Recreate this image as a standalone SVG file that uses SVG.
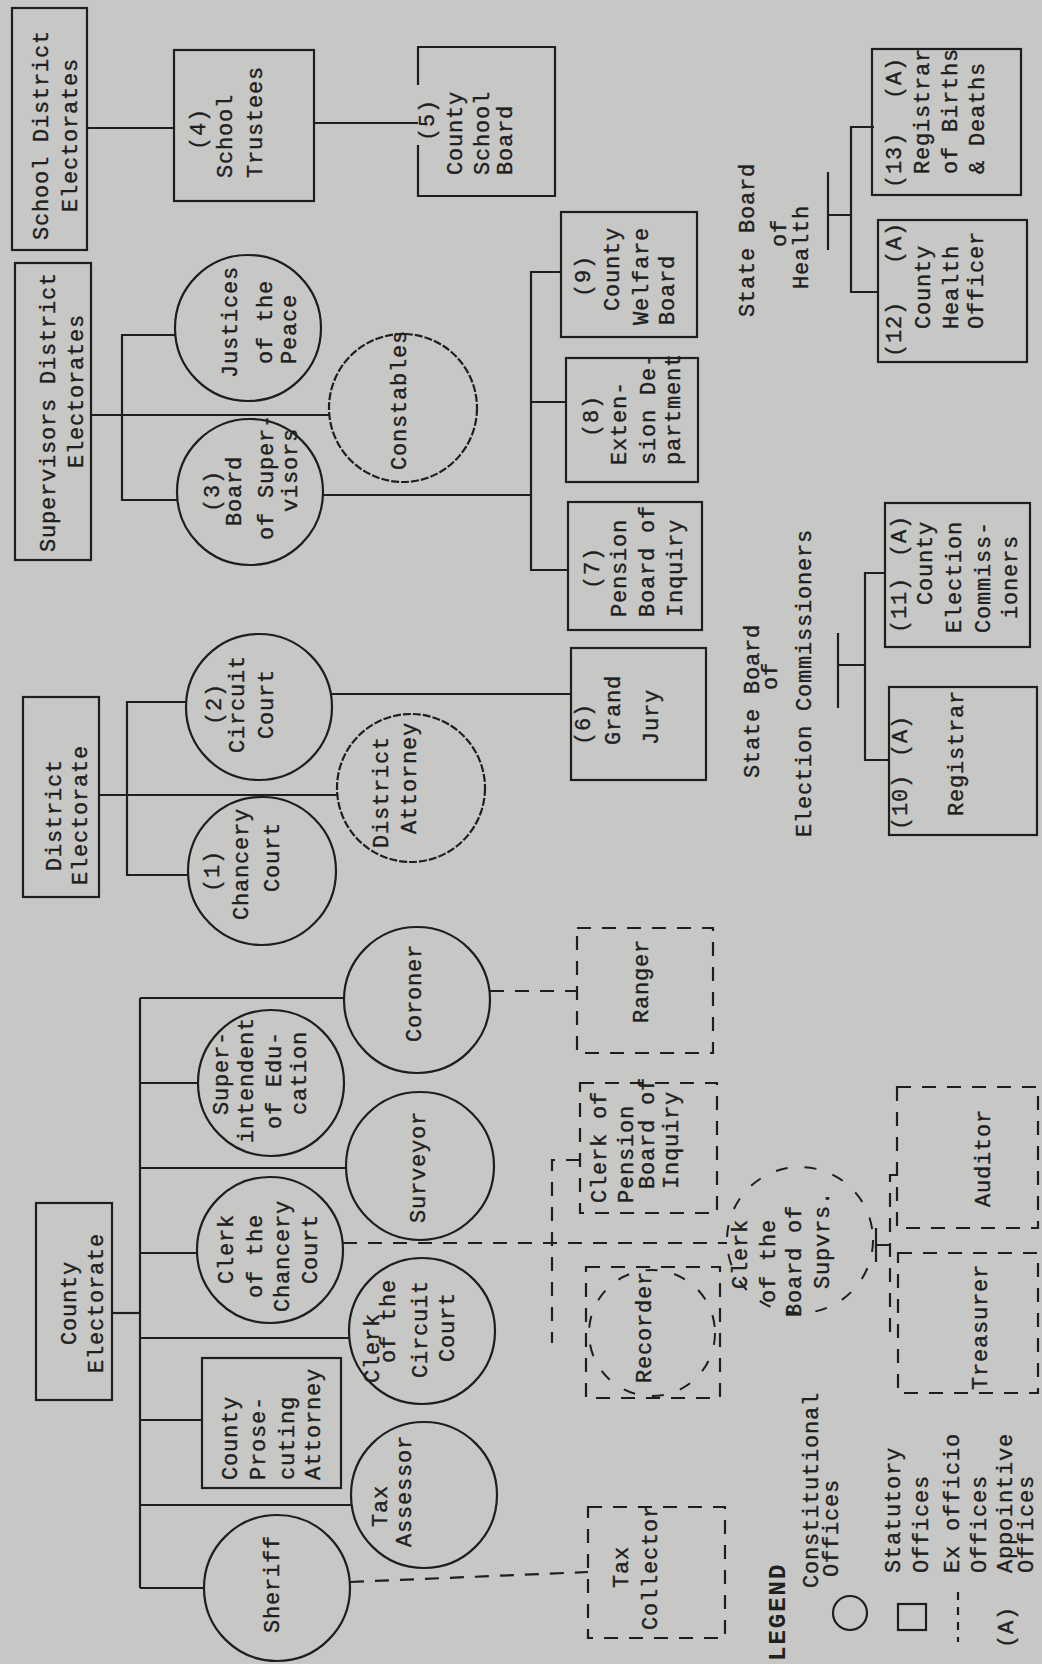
<svg xmlns="http://www.w3.org/2000/svg" width="1042" height="1664" viewBox="0 0 1042 1664">
<style>
.bg{fill:#c7c7c5}
.s{fill:none;stroke:#1e1e1e;stroke-width:2.2}
.d{fill:none;stroke:#1e1e1e;stroke-width:2.2;stroke-dasharray:14 11}
.dc{fill:none;stroke:#1e1e1e;stroke-width:2;stroke-dasharray:12 17}
.t{font-family:"Liberation Mono","DejaVu Sans Mono",monospace;font-size:22px;letter-spacing:0.8px;fill:#202020;stroke:#202020;stroke-width:0.35}
.lg{font-family:"Liberation Mono","DejaVu Sans Mono",monospace;font-size:24px;font-weight:bold;letter-spacing:2px;fill:#202020}
</style>
<rect class="bg" x="0" y="0" width="1042" height="1664"/>

<g id="connectors">
  <path class="s" d="M87,128 H174"/>
  <path class="s" d="M314,123 H418"/>
  <path class="s" d="M91,415 H329"/>
  <path class="s" d="M175,335 H122 V500 H177"/>
  <path class="s" d="M323,495 H531"/>
  <path class="s" d="M561,272 H531 V570 H568"/>
  <path class="s" d="M531,402 H566"/>
  <path class="s" d="M332,694 H571"/>
  <path class="s" d="M99,795 H337"/>
  <path class="s" d="M186,702 H127 V875 H188"/>
  <path class="s" d="M112,1313 H140"/>
  <path class="s" d="M140,998 V1588"/>
  <path class="s" d="M140,998 H344 M140,1083 H198 M140,1168 H346 M140,1253 H197 M140,1338 H349 M140,1420 H202 M140,1505 H351 M140,1588 H204"/>
  <path class="s" d="M828,172 V250 M828,215 H851 M874,127 H851 V292 H878"/>
  <path class="s" d="M838,633 V708 M838,665 H865 M885,573 H865 V760 H889"/>
  <path class="d" d="M350,1582 L588,1572"/>
  <path class="d" d="M490,991 H577"/>
  <path class="d" d="M343,1243 H727"/>
  <path class="d" d="M580,1160 H552 V1343"/>
  <path class="s" d="M876,1228 V1262 M876,1245 H890"/>
  <path class="d" d="M897,1175 H890 V1335 H898"/>
</g>

<g id="school-district-electorates">
  <rect class="s" x="12" y="8" width="75" height="242"/>
  <text class="t" transform="rotate(-90)"><tspan x="-240" y="48">School District</tspan><tspan x="-212" y="77">Electorates</tspan></text>
</g>
<g id="school-trustees">
  <rect class="s" x="174" y="50" width="140" height="151"/>
  <text class="t" transform="rotate(-90)"><tspan x="-150" y="205">(4)</tspan><tspan x="-178" y="232">School</tspan><tspan x="-178" y="262">Trustees</tspan></text>
</g>
<g id="county-school-board">
  <path class="s" d="M418,85 V47 H555 V196 H418 V145"/>
  <text class="t" transform="rotate(-90)"><tspan x="-141" y="434">(5)</tspan><tspan x="-175" y="462">County</tspan><tspan x="-175" y="489">School</tspan><tspan x="-175" y="512">Board</tspan></text>
</g>
<g id="supervisors-district-electorates">
  <rect class="s" x="15" y="263" width="76" height="297"/>
  <text class="t" transform="rotate(-90)"><tspan x="-552" y="55">Supervisors District</tspan><tspan x="-468" y="83">Electorates</tspan></text>
</g>
<g id="justices-of-the-peace">
  <circle class="s" cx="248" cy="328" r="73"/>
  <text class="t" transform="rotate(-90)"><tspan x="-378" y="237">Justices</tspan><tspan x="-364" y="272">of the</tspan><tspan x="-364" y="296">Peace</tspan></text>
</g>
<g id="constables">
  <circle class="s" cx="403" cy="408" r="74" stroke-dasharray="8 2"/>
  <text class="t" transform="rotate(-90)"><tspan x="-470" y="406">Constables</tspan></text>
</g>
<g id="board-of-supervisors">
  <circle class="s" cx="250" cy="492" r="73"/>
  <text class="t" transform="rotate(-90)"><tspan x="-512" y="219">(3)</tspan><tspan x="-526" y="241">Board</tspan><tspan x="-540" y="273">of Super-</tspan><tspan x="-512" y="297">visors</tspan></text>
</g>
<g id="county-welfare-board">
  <rect class="s" x="561" y="212" width="136" height="125"/>
  <text class="t" transform="rotate(-90)"><tspan x="-297" y="590">(9)</tspan><tspan x="-311" y="619">County</tspan><tspan x="-325" y="648">Welfare</tspan><tspan x="-325" y="674">Board</tspan></text>
</g>
<g id="extension-department">
  <rect class="s" x="566" y="358" width="132" height="124"/>
  <text class="t" transform="rotate(-90)"><tspan x="-437" y="598">(8)</tspan><tspan x="-465" y="626">Exten-</tspan><tspan x="-465" y="655">sion De-</tspan><tspan x="-465" y="680">partment</tspan></text>
</g>
<g id="pension-board-of-inquiry">
  <rect class="s" x="568" y="502" width="134" height="128"/>
  <text class="t" transform="rotate(-90)"><tspan x="-589" y="599">(7)</tspan><tspan x="-617" y="626">Pension</tspan><tspan x="-617" y="654">Board of</tspan><tspan x="-617" y="682">Inquiry</tspan></text>
</g>
<g id="grand-jury">
  <rect class="s" x="571" y="648" width="135" height="132"/>
  <text class="t" transform="rotate(-90)"><tspan x="-745" y="590">(6)</tspan><tspan x="-745" y="620">Grand</tspan><tspan x="-745" y="658">Jury</tspan></text>
</g>
<g id="state-board-of-health">
  <text class="t" transform="rotate(-90)"><tspan x="-317" y="754">State Board</tspan><tspan x="-247" y="786">of</tspan><tspan x="-289" y="808">Health</tspan></text>
</g>
<g id="registrar-of-births-deaths">
  <rect class="s" x="872" y="49" width="149" height="146"/>
  <text class="t" transform="rotate(-90)"><tspan x="-188" y="901">(13)</tspan><tspan x="-99" y="901">(A)</tspan><tspan x="-174" y="929">Registrar</tspan><tspan x="-174" y="957">of Births</tspan><tspan x="-174" y="984">&amp; Deaths</tspan></text>
</g>
<g id="county-health-officer">
  <rect class="s" x="878" y="220" width="149" height="142"/>
  <text class="t" transform="rotate(-90)"><tspan x="-357" y="901">(12)</tspan><tspan x="-264" y="901">(A)</tspan><tspan x="-329" y="930">County</tspan><tspan x="-329" y="958">Health</tspan><tspan x="-329" y="983">Officer</tspan></text>
</g>
<g id="state-board-of-election-commissioners">
  <text class="t" transform="rotate(-90)"><tspan x="-778" y="759">State Board</tspan><tspan x="-690" y="777">of</tspan><tspan x="-837" y="811">Election Commissioners</tspan></text>
</g>
<g id="county-election-commissioners">
  <rect class="s" x="885" y="503" width="145" height="144"/>
  <text class="t" transform="rotate(-90)"><tspan x="-633" y="906">(11)</tspan><tspan x="-557" y="906">(A)</tspan><tspan x="-605" y="932">County</tspan><tspan x="-633" y="961">Election</tspan><tspan x="-633" y="990">Commiss-</tspan><tspan x="-619" y="1017">ioners</tspan></text>
</g>
<g id="registrar">
  <rect class="s" x="889" y="687" width="148" height="148"/>
  <text class="t" transform="rotate(-90)"><tspan x="-830" y="907">(10)</tspan><tspan x="-757" y="907">(A)</tspan><tspan x="-816" y="963">Registrar</tspan></text>
</g>
<g id="district-electorate">
  <rect class="s" x="23" y="697" width="76" height="200"/>
  <text class="t" transform="rotate(-90)"><tspan x="-871" y="61">District</tspan><tspan x="-885" y="87">Electorate</tspan></text>
</g>
<g id="circuit-court">
  <circle class="s" cx="259" cy="707" r="73"/>
  <text class="t" transform="rotate(-90)"><tspan x="-725" y="221">(2)</tspan><tspan x="-753" y="244">Circuit</tspan><tspan x="-739" y="273">Court</tspan></text>
</g>
<g id="district-attorney">
  <circle class="s" cx="411" cy="788" r="74" stroke-dasharray="8 2"/>
  <text class="t" transform="rotate(-90)"><tspan x="-848" y="388">District</tspan><tspan x="-834" y="416">Attorney</tspan></text>
</g>
<g id="chancery-court">
  <circle class="s" cx="262" cy="871" r="74"/>
  <text class="t" transform="rotate(-90)"><tspan x="-892" y="219">(1)</tspan><tspan x="-920" y="248">Chancery</tspan><tspan x="-892" y="279">Court</tspan></text>
</g>
<g id="county-electorate">
  <rect class="s" x="36" y="1203" width="76" height="197"/>
  <text class="t" transform="rotate(-90)"><tspan x="-1345" y="76">County</tspan><tspan x="-1373" y="103">Electorate</tspan></text>
</g>
<g id="coroner">
  <circle class="s" cx="417" cy="1000" r="73"/>
  <text class="t" transform="rotate(-90)"><tspan x="-1042" y="421">Coroner</tspan></text>
</g>
<g id="superintendent-of-education">
  <circle class="s" cx="271" cy="1083" r="73"/>
  <text class="t" transform="rotate(-90)"><tspan x="-1115" y="228">Super-</tspan><tspan x="-1143" y="253">intendent</tspan><tspan x="-1129" y="281">of Edu-</tspan><tspan x="-1115" y="306">cation</tspan></text>
</g>
<g id="surveyor">
  <circle class="s" cx="420" cy="1166" r="74"/>
  <text class="t" transform="rotate(-90)"><tspan x="-1223" y="425">Surveyor</tspan></text>
</g>
<g id="clerk-of-the-chancery-court">
  <circle class="s" cx="270" cy="1250" r="73"/>
  <text class="t" transform="rotate(-90)"><tspan x="-1284" y="233">Clerk</tspan><tspan x="-1298" y="262">of the</tspan><tspan x="-1312" y="289">Chancery</tspan><tspan x="-1284" y="317">Court</tspan></text>
</g>
<g id="clerk-of-the-circuit-court">
  <circle class="s" cx="422" cy="1331" r="73"/>
  <text class="t" transform="rotate(-90)"><tspan x="-1383" y="379">Clerk</tspan><tspan x="-1363" y="395">of the</tspan><tspan x="-1378" y="427">Circuit</tspan><tspan x="-1362" y="454">Court</tspan></text>
</g>
<g id="county-prosecuting-attorney">
  <rect class="s" x="202" y="1358" width="139" height="130"/>
  <text class="t" transform="rotate(-90)"><tspan x="-1480" y="237">County</tspan><tspan x="-1480" y="265">Prose-</tspan><tspan x="-1480" y="294">cuting</tspan><tspan x="-1480" y="320">Attorney</tspan></text>
</g>
<g id="tax-assessor">
  <circle class="s" cx="424" cy="1495" r="73"/>
  <text class="t" transform="rotate(-90)"><tspan x="-1527" y="387">Tax</tspan><tspan x="-1547" y="411">Assessor</tspan></text>
</g>
<g id="sheriff">
  <circle class="s" cx="277" cy="1588" r="73"/>
  <text class="t" transform="rotate(-90)"><tspan x="-1633" y="279">Sheriff</tspan></text>
</g>
<g id="tax-collector">
  <rect class="d" x="588" y="1507" width="137" height="131"/>
  <text class="t" transform="rotate(-90)"><tspan x="-1588" y="628">Tax</tspan><tspan x="-1630" y="657">Collector</tspan></text>
</g>
<g id="ranger">
  <rect class="d" x="577" y="928" width="136" height="125"/>
  <text class="t" transform="rotate(-90)"><tspan x="-1023" y="648">Ranger</tspan></text>
</g>
<g id="clerk-of-pension-board">
  <rect class="d" x="580" y="1083" width="137" height="130"/>
  <text class="t" transform="rotate(-90)"><tspan x="-1203" y="606">Clerk of</tspan><tspan x="-1203" y="633">Pension</tspan><tspan x="-1189" y="654">Board of</tspan><tspan x="-1189" y="678">Inquiry</tspan></text>
</g>
<g id="recorder">
  <rect class="d" x="586" y="1267" width="134" height="131"/>
  <circle class="dc" cx="652" cy="1333" r="63"/>
  <text class="t" transform="rotate(-90)"><tspan x="-1383" y="651">Recorder</tspan></text>
</g>
<g id="clerk-of-the-board-of-supervisors">
  <circle class="dc" cx="800" cy="1240" r="73"/>
  <text class="t" transform="rotate(-90)"><tspan x="-1289" y="747">Clerk</tspan><tspan x="-1303" y="775">of the</tspan><tspan x="-1317" y="801">Board of</tspan><tspan x="-1289" y="829">Supvrs.</tspan></text>
</g>
<g id="auditor">
  <rect class="d" x="897" y="1087" width="141" height="141"/>
  <text class="t" transform="rotate(-90)"><tspan x="-1207" y="990">Auditor</tspan></text>
</g>
<g id="treasurer">
  <rect class="d" x="898" y="1253" width="140" height="140"/>
  <text class="t" transform="rotate(-90)"><tspan x="-1390" y="987">Treasurer</tspan></text>
</g>

<g id="legend">
  <text class="lg" transform="rotate(-90)"><tspan x="-1661" y="785">LEGEND</tspan></text>
  <circle class="s" cx="850" cy="1613" r="17" stroke-width="1.8"/>
  <rect class="s" x="898" y="1604" width="28" height="26" stroke-width="1.8"/>
  <path class="s" d="M958,1592 V1642" stroke-dasharray="8 7"/>
  <text class="t" transform="rotate(-90)"><tspan x="-1588" y="818">Constitutional</tspan><tspan x="-1577" y="838">Offices</tspan><tspan x="-1573" y="900">Statutory</tspan><tspan x="-1573" y="928">Offices</tspan><tspan x="-1573" y="959">Ex officio</tspan><tspan x="-1573" y="986">Offices</tspan><tspan x="-1648" y="1013">(A)</tspan><tspan x="-1573" y="1012">Appointive</tspan><tspan x="-1573" y="1033">Offices</tspan></text>
</g>
</svg>
